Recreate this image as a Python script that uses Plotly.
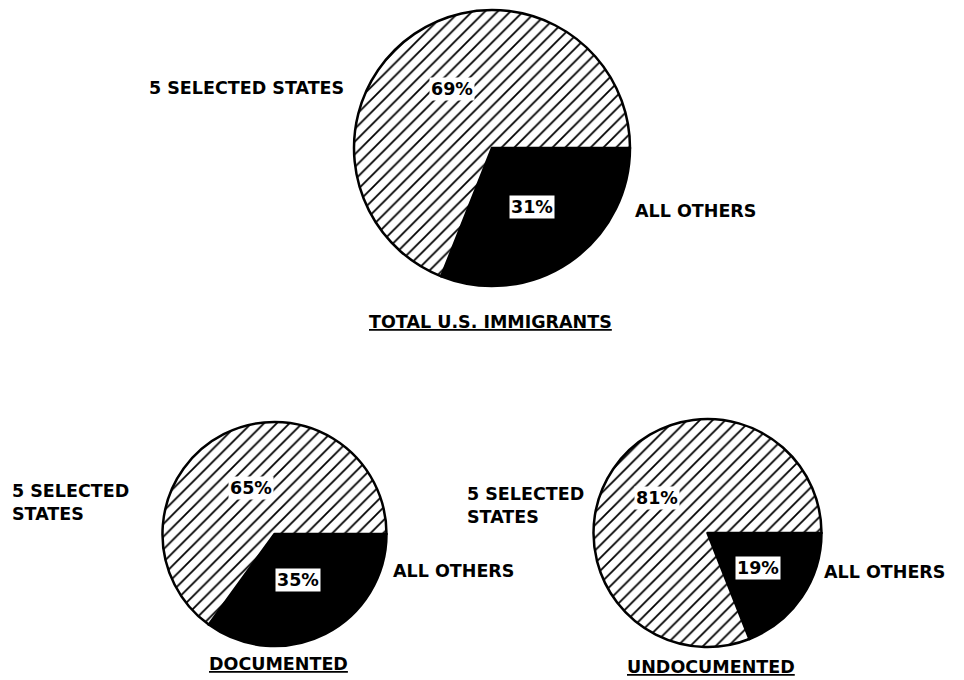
import math
import plotly.graph_objects as go

# data
categories = ['ALL OTHERS', '5 SELECTED STATES']
total_share = [31, 69]
documented_share = [35, 65]
undocumented_share = [19, 81]
titles = ['TOTAL U.S. IMMIGRANTS', 'DOCUMENTED', 'UNDOCUMENTED']

W, H = 964, 680
FONT = 'DejaVu Sans, Arial, sans-serif'
FS = 17.5

# pie placement in pixels: centre x, centre y, radius, label distance
pies = [
    dict(values=total_share, cx=492, cy=148, r=138, k=0.52),
    dict(values=documented_share, cx=274.5, cy=534, r=112, k=0.46),
    dict(values=undocumented_share, cx=707.5, cy=533, r=114, k=0.54),
]

fig = go.Figure()

for p in pies:
    fig.add_trace(go.Pie(
        labels=categories,
        values=p['values'],
        sort=False,
        direction='clockwise',
        rotation=90,
        textinfo='none',
        hoverinfo='label+percent',
        showlegend=False,
        domain=dict(
            x=[(p['cx'] - p['r']) / W, (p['cx'] + p['r']) / W],
            y=[1 - (p['cy'] + p['r']) / H, 1 - (p['cy'] - p['r']) / H],
        ),
        marker=dict(
            colors=['black', 'white'],
            line=dict(color='black', width=2.5),
            pattern=dict(shape=['', '/'], fgcolor='black', bgcolor='white',
                         size=9, solidity=0.2),
        ),
    ))

    # percentage labels on a white box, placed at each slice's mid angle
    total = sum(p['values'])
    cum = 0
    for v in p['values']:
        theta = (cum + v / 2) / total * 2 * math.pi
        cum += v
        dx = math.cos(theta) * p['k'] * p['r']
        dy = math.sin(theta) * p['k'] * p['r']
        fig.add_annotation(
            x=(p['cx'] + dx) / W, y=1 - (p['cy'] + dy) / H,
            xref='paper', yref='paper', showarrow=False,
            xanchor='center', yanchor='middle',
            text=f'<b>{v}%</b>', bgcolor='white', borderpad=1,
            font=dict(family=FONT, size=FS, color='black'),
        )


def add_text(text, x, y, xanchor='left', underline=False):
    f = dict(family=FONT, size=FS, color='black')
    if underline:
        f['lineposition'] = 'under'
    fig.add_annotation(x=x / W, y=1 - y / H, xref='paper', yref='paper',
                       text=text, showarrow=False, xanchor=xanchor,
                       yanchor='middle', align='left', font=f)


# top pie labels
add_text('<b>5 SELECTED STATES</b>', 147, 88)
add_text('<b>ALL OTHERS</b>', 633, 211)
add_text('<b>' + titles[0] + '</b>', 490, 322, xanchor='center', underline=True)

# documented labels
add_text('<b>5 SELECTED<br>STATES</b>', 10, 502)
add_text('<b>ALL OTHERS</b>', 391, 571)
add_text('<b>' + titles[1] + '</b>', 278, 664, xanchor='center', underline=True)

# undocumented labels
add_text('<b>5 SELECTED<br>STATES</b>', 465, 505)
add_text('<b>ALL OTHERS</b>', 822, 572)
add_text('<b>' + titles[2] + '</b>', 711, 667, xanchor='center', underline=True)

fig.update_layout(
    width=W, height=H,
    margin=dict(l=0, r=0, t=0, b=0),
    paper_bgcolor='white',
    plot_bgcolor='white',
)

fig.write_html('out.html', config={'displayModeBar': False},
               post_script="document.body.style.margin='0';")
